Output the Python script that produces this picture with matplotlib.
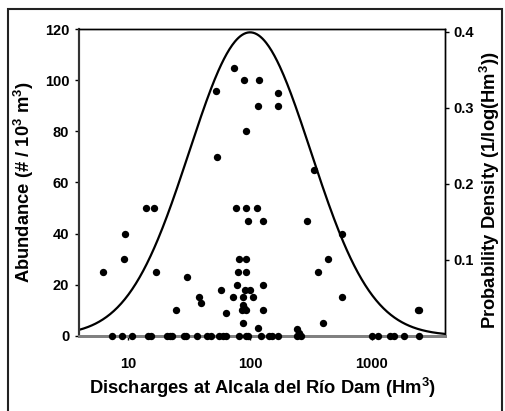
import numpy as np
import matplotlib
matplotlib.use("Agg")
import matplotlib.pyplot as plt
from matplotlib.patches import Rectangle

plt.rcParams['font.family'] = ['Liberation Sans', 'DejaVu Sans']
plt.rcParams['mathtext.fontset'] = 'custom'
plt.rcParams['mathtext.bf'] = 'Liberation Sans:bold'
plt.rcParams['mathtext.rm'] = 'Liberation Sans:bold'
plt.rcParams['mathtext.default'] = 'bf'

# Scatter data: discharge (Hm3) vs abundance (#/10^3 m3)
discharge_zero = [7.3, 8.8, 10.8, 14.6, 15.3, 20.9, 21.9, 23.0, 28.7, 30.0, 36.9,
                  44.6, 47.5, 55.6, 60.0, 63.1, 81.2, 92.2, 96.3, 122.5, 143.3,
                  152.5, 170.9, 244.8, 261, 1000, 1133, 1406, 1525, 1842, 2448]
discharge_pos = [13.9, 16.3, 9.4, 9.2, 6.2, 16.8, 30.5, 38.1, 39.4, 24.8,
                 76.7, 92.7, 113.5, 95.8, 127, 296, 81.6, 92.7, 80.1, 92.7,
                 78.7, 128.6, 57.4, 90.9, 100, 73, 88.1, 105, 87.1, 89.2,
                 63.5, 85.5, 92.7, 128.6, 88.1, 117, 242, 254, 398, 2448,
                 566, 566, 440, 364, 2416, 73.9, 89.8, 118.6, 52.6, 169,
                 115.7, 171, 92.7, 53.8, 337]
abundance_pos = [50, 50, 40, 30, 25, 25, 23, 15, 13, 10,
                 50, 50, 50, 45, 45, 45, 30, 30, 25, 25,
                 20, 20, 18, 18, 18, 15, 15, 15, 12, 11,
                 9, 10, 10, 10, 5, 3, 2.5, 1, 5, 10,
                 15, 40, 30, 25, 10, 105, 100, 100, 96, 95,
                 90, 90, 80, 70, 65]

# Fitted log-normal density (log10 scale parameters)
pdf_mu_log10 = 2.0
pdf_sd_log10 = 0.5
pdf_peak = 0.399

x_ticks = [10, 100, 1000]
y_ticks = [0, 20, 40, 60, 80, 100, 120]
y2_ticks = [0.1, 0.2, 0.3, 0.4]

fig = plt.figure(figsize=(5.06, 4.11), dpi=100)
W, H = 506, 411
ax = fig.add_axes([79 / W, 1 - 335.7 / H, (445 - 79) / W, (335.7 - 29.3) / H])

discharge = np.array(discharge_zero + discharge_pos, dtype=float)
abundance = np.array([0] * len(discharge_zero) + abundance_pos, dtype=float)
ax.scatter(discharge, abundance, s=28, color='black', zorder=3, clip_on=False,
           linewidths=0)

ax.set_xscale('log')
ax.set_xlim(3.93, 4000)
ax.set_ylim(0, 120)
ax.set_xticks(x_ticks)
ax.set_xticklabels([str(t) for t in x_ticks], fontweight='bold')
ax.minorticks_off()
ax.set_yticks(y_ticks)
ax.set_yticklabels([str(t) for t in y_ticks], fontweight='bold')
ax.tick_params(axis='both', direction='out', length=3, width=1, labelsize=10.5,
               colors='black')
ax.tick_params(axis='x', pad=12)
ax.tick_params(axis='y', pad=4)

ax2 = ax.twinx()
xs = np.logspace(np.log10(3.93), np.log10(4000), 400)
dens = pdf_peak * np.exp(-0.5 * ((np.log10(xs) - pdf_mu_log10) / pdf_sd_log10) ** 2)
ax2.plot(xs, dens, color='black', lw=1.6, zorder=2)
ax2.set_ylim(0.0, 0.403)
ax2.set_yticks(y2_ticks)
ax2.set_yticklabels(['0.1', '0.2', '0.3', '0.4'], fontweight='bold')
ax2.tick_params(axis='y', direction='out', length=3, width=1, labelsize=10.5, pad=3)
ax2.set_xlim(3.93, 4000)

for a in (ax, ax2):
    a.spines['top'].set_linewidth(1.0)
    a.spines['right'].set_linewidth(1.0)
    a.spines['left'].set_linewidth(1.5)
    a.spines['left'].set_color('#333333')
    a.spines['bottom'].set_linewidth(2)
    a.spines['bottom'].set_color('#808080')
ax.set_zorder(ax2.get_zorder() + 1)
ax.patch.set_visible(False)

ax.set_xlabel('Discharges at Alcala del Río Dam (Hm$^3$)', fontsize=13.2,
              fontweight='bold', labelpad=4)
fig.text(24 / W, 1 - 182 / H, 'Abundance (# / 10$^3$ m$^3$)', rotation=90,
         fontsize=13.2, fontweight='bold', ha='center', va='center')
fig.text(490 / W, 1 - 190 / H, 'Probability Density (1/log(Hm$^3$))', rotation=90,
         fontsize=13.2, fontweight='bold', ha='center', va='center')

# outer frame
fig.patches.append(Rectangle((8 / W, -0.05), (502 - 8) / W, 1 - 9 / H + 0.05,
                             transform=fig.transFigure, fill=False,
                             edgecolor='#222222', lw=1.5))

fig.savefig('out.png', dpi=100)
